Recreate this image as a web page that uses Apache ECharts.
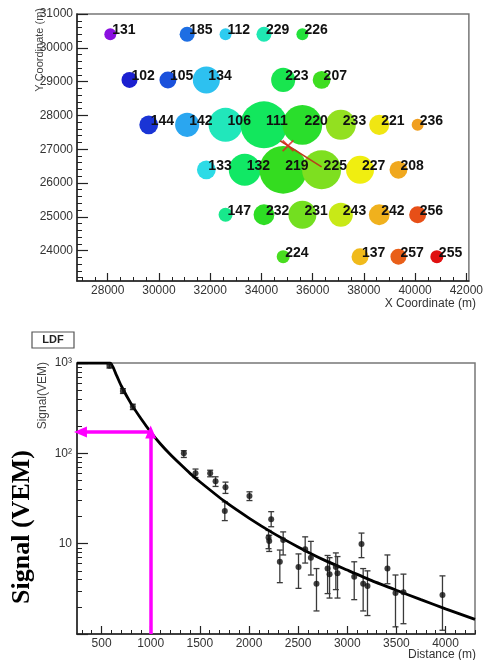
<!DOCTYPE html>
<html>
<head>
<meta charset="utf-8">
<script src="https://cdn.jsdelivr.net/npm/echarts@6/dist/echarts.min.js"></script>
<style>
html, body { margin: 0; padding: 0; background: #fff; }
#main { width: 486px; height: 660px; }
</style>
</head>
<body>
<div id="main"></div>
<script>
// ---- station map (top panel) ----
var stationIds = ['131','185','112','229','226',
  '102','105','134','223','207',
  '144','142','106','111','220','233','221','236',
  '133','132','219','225','227','208',
  '147','232','231','243','242','256',
  '224','137','257','255'];
var stationX = [28100,31100,32600,34100,35600,
  28850,30350,31850,34850,36350,
  29600,31100,32600,34100,35600,37100,38600,40100,
  31850,33350,34850,36350,37850,39350,
  32600,34100,35600,37100,38600,40100,
  34850,37850,39350,40850];
var stationY = [30400,30400,30400,30400,30400,
  29050,29050,29050,29050,29050,
  27720,27720,27720,27720,27720,27720,27720,27720,
  26390,26390,26390,26390,26390,26390,
  25060,25060,25060,25060,25060,25060,
  23820,23820,23820,23820];
// signal in VEM (bubble size)
var stationSignal = [5.6,8.7,5.6,8.7,5.6,
  10,11.5,49,32,13,
  15,32,133,870,300,75,18,5.6,
  15,100,950,275,56,13,
  7.5,20,56,32,20,11.5,
  6.5,11.5,10,6.5];
// relative trigger time, 0 = earliest .. 100 = latest (bubble colour)
var stationTime = [0,20,34,46,60,
  9,16,32,57,65,
  12,27,45,55,62,73,83,91,
  38,54,64,71,82,90,
  50,63,70,78,89,96,
  66,88,95,100];
var timePalette = ['#8a10e0','#1a20d0','#1a60e0','#2aa8f0','#30d8f0','#20e8b8',
  '#10e860','#30dc20','#90e020','#f0f010','#f0a020','#e01010'];
var coreXY = [[35040, 27100]];
var showerAxis = [[34730, 27250], [36350, 26480]];
var mapXTicks = [28000,30000,32000,34000,36000,38000,40000,42000];
var mapYTicks = [24000,25000,26000,27000,28000,29000,30000,31000];

// ---- lateral distribution (bottom panel) ----
var ldfDist   = [580,717,818,1337,1456,1605,1660,1761,1754,2005,2226,2199,2206,2348,2314,2504,2572,2630,2687,2800,2820,2884,2901,3071,3145,3162,3206,3409,3491,3572,3969];
var ldfSignal = [930,490,328,100,60,60,49,42,23,33.6,18.6,11.7,10.7,11.0,6.3,5.5,8.7,7.0,3.6,5.3,4.6,5.5,4.7,4.3,9.9,3.6,3.4,5.3,2.84,2.9,2.7];
var ldfLow    = [880,460,305,90,54,55,43,36,18,30,15.4,8.8,8.2,7.5,3.7,3.2,6.1,4.5,1.8,2.8,2.5,3.1,2.5,2.4,7.0,1.8,1.6,3.6,1.2,1.3,1.1];
var ldfHigh   = [980,520,350,107,67,65,55,48,29,37.5,22.6,14,12.4,13.5,8.5,7.7,11.9,10.6,5.3,7.4,7.0,7.9,7.2,6.3,13.1,5.3,5.0,7.5,4.5,4.6,4.4];
// fitted LDF (clipped at 1000 on the left)
var fitDist   = [250,585,650,700,800,900,1000,1100,1200,1300,1400,1500,1750,2000,2250,2500,2750,3000,3250,3500,3750,4000,4300];
var fitSignal = [1000,1000,740,560,355,243,172,127,97,76,60,48.5,29.5,19.2,13,9.2,6.7,5.1,3.9,3.05,2.4,1.9,1.45];
var s1000 = 172;
var ldfXTicks = [500,1000,1500,2000,2500,3000,3500,4000];

var xMinorMap = [], yMinorMap = [], xMinorLdf = [], yMinorLdfLog = [];
for (var v = 27000; v <= 42000; v += 500) xMinorMap.push(v);
for (var v = 23200; v <= 31000; v += 200) yMinorMap.push(v);
for (var v = 300; v <= 4300; v += 100) xMinorLdf.push(v);
// minor log ticks expressed as decades on a hidden linear helper axis (0..3)
[0, 1, 2].forEach(function (d) { for (var k = 2; k <= 9; k++) yMinorLdfLog.push(d + Math.log10(k)); });

var stationData = stationIds.map(function (id, i) {
  return { name: id, value: [stationX[i], stationY[i], stationSignal[i], stationTime[i]] };
});
var ldfPoints = ldfDist.map(function (d, i) { return [d, ldfSignal[i]]; });
var ldfErrors = ldfDist.map(function (d, i) { return [d, ldfLow[i], ldfHigh[i]]; });
var fitLine = fitDist.map(function (d, i) { return [d, fitSignal[i]]; });

var axisColor = '#222';
var labelFont = { color: '#333', fontSize: 12, fontFamily: 'Liberation Sans, Arial, sans-serif' };
function plain(v) { return String(v); }

function majorX(grid, min, max, ticks) {
  return {
    type: 'value', gridIndex: grid, min: min, max: max, position: 'bottom',
    axisLine: { lineStyle: { color: axisColor, width: 1.5 } },
    axisTick: { inside: true, length: 8, customValues: ticks, lineStyle: { color: axisColor, width: 1.2 } },
    axisLabel: Object.assign({ customValues: ticks, margin: 4, formatter: plain }, labelFont),
    splitLine: { show: false }
  };
}
function minorAxis(type, grid, pos, min, max, ticks) {
  return {
    type: type, gridIndex: grid, min: min, max: max, position: pos, offset: 0,
    axisLine: { show: false },
    axisTick: { inside: true, length: (pos === 'left' ? 5 : 4), customValues: ticks, lineStyle: { color: axisColor, width: 1 } },
    axisLabel: { show: false }, splitLine: { show: false }
  };
}

var myChart = echarts.init(document.getElementById('main'));
var option = {
  animation: false,
  backgroundColor: '#fff',
  grid: [
    { left: 77, right: 11, top: 14, bottom: 379, show: true, borderColor: '#777', borderWidth: 1.5, containLabel: false },
    { left: 77, right: 11, top: 363, bottom: 26, show: true, borderColor: '#777', borderWidth: 1.5, containLabel: false }
  ],
  xAxis: [
    majorX(0, 26800, 42100, mapXTicks),
    minorAxis('value', 0, 'bottom', 26800, 42100, xMinorMap),
    majorX(1, 250, 4300, ldfXTicks),
    minorAxis('value', 1, 'bottom', 250, 4300, xMinorLdf)
  ],
  yAxis: [
    {
      type: 'value', gridIndex: 0, min: 23100, max: 31000, position: 'left',
      axisLine: { lineStyle: { color: axisColor, width: 1.5 } },
      axisTick: { inside: true, length: 11, customValues: mapYTicks, lineStyle: { color: axisColor, width: 1.2 } },
      axisLabel: Object.assign({ customValues: mapYTicks, margin: 4, formatter: plain }, labelFont),
      splitLine: { show: false }
    },
    minorAxis('value', 0, 'left', 23100, 31000, yMinorMap),
    {
      type: 'log', logBase: 10, gridIndex: 1, min: 1, max: 1000, position: 'left',
      axisLine: { lineStyle: { color: axisColor, width: 1.5 } },
      axisTick: { inside: true, length: 11, lineStyle: { color: axisColor, width: 1.2 } },
      axisLabel: Object.assign({
        margin: 5,
        formatter: function (v) {
          if (v >= 999) return '10³';
          if (v >= 99) return '10²';
          if (v >= 9) return '10';
          return '';
        }
      }, labelFont),
      splitLine: { show: false }
    },
    minorAxis('value', 1, 'left', 0, 3, yMinorLdfLog)
  ],
  visualMap: {
    show: false, type: 'continuous', seriesIndex: 0, dimension: 3,
    min: 0, max: 100, inRange: { color: timePalette }
  },
  series: [
    {
      name: 'Stations', type: 'scatter', xAxisIndex: 0, yAxisIndex: 0,
      data: stationData,
      symbolSize: function (val) { return 16 * Math.log10(val[2]); },
      itemStyle: { opacity: 1 },
      label: {
        show: true, position: 'inside', align: 'left', offset: [2, -4],
        formatter: '{b}', color: '#111', fontSize: 14, fontWeight: 'bold',
        fontFamily: 'Liberation Sans, Arial, sans-serif'
      },
      emphasis: { disabled: true }
    },
    {
      name: 'Shower axis', type: 'line', xAxisIndex: 0, yAxisIndex: 0,
      data: showerAxis, symbol: 'none', z: 5,
      lineStyle: { color: '#b8401c', width: 1.5 }
    },
    {
      name: 'Core', type: 'scatter', xAxisIndex: 0, yAxisIndex: 0,
      data: coreXY, z: 6,
      symbol: 'path://M0,1L1,0L5,4L9,0L10,1L6,5L10,9L9,10L5,6L1,10L0,9L4,5Z',
      symbolSize: 12, itemStyle: { color: '#e02020' }
    },
    {
      name: 'LDF fit', type: 'line', xAxisIndex: 2, yAxisIndex: 2,
      data: fitLine, symbol: 'none', smooth: 0.2,
      lineStyle: { color: '#000', width: 2.8 }, z: 4,
      markLine: {
        silent: true, symbol: ['none', 'triangle'], symbolSize: [11, 13],
        label: { show: false },
        lineStyle: { color: '#ff00ff', width: 3.5, type: 'solid' },
        data: [
          [{ coord: [1000, 1] }, { coord: [1000, s1000] }],
          [{ coord: [1000, s1000] }, { coord: [285, s1000] }]
        ]
      }
    },
    {
      name: 'Errors', type: 'custom', xAxisIndex: 2, yAxisIndex: 2,
      data: ldfErrors, encode: { x: 0, y: [1, 2] }, z: 3,
      renderItem: function (params, api) {
        var top = api.coord([api.value(0), api.value(2)]);
        var bot = api.coord([api.value(0), api.value(1)]);
        var st = { stroke: '#3a3a3a', lineWidth: 1.3 };
        return {
          type: 'group',
          children: [
            { type: 'line', shape: { x1: top[0], y1: top[1], x2: bot[0], y2: bot[1] }, style: st },
            { type: 'line', shape: { x1: top[0] - 3, y1: top[1], x2: top[0] + 3, y2: top[1] }, style: st },
            { type: 'line', shape: { x1: bot[0] - 3, y1: bot[1], x2: bot[0] + 3, y2: bot[1] }, style: st }
          ]
        };
      }
    },
    {
      name: 'Signals', type: 'scatter', xAxisIndex: 2, yAxisIndex: 2,
      data: ldfPoints, symbolSize: 6, z: 5,
      itemStyle: { color: '#111' }
    }
  ],
  graphic: [
    { type: 'text', x: 40, y: 8, rotation: Math.PI / 2,
      style: { text: 'Y Coordinate (m)', align: 'right', verticalAlign: 'middle', fontSize: 11, fontFamily: 'Liberation Sans, Arial', fill: '#444' } },
    { type: 'text', x: 476, y: 304,
      style: { text: 'X Coordinate (m)', align: 'right', verticalAlign: 'middle', fontSize: 12, fontFamily: 'Liberation Sans, Arial', fill: '#333' } },
    { type: 'rect', shape: { x: 32, y: 332, width: 42, height: 16 },
      style: { fill: '#fff', stroke: '#555', lineWidth: 1.2 } },
    { type: 'text', x: 53, y: 340,
      style: { text: 'LDF', align: 'center', verticalAlign: 'middle', fontSize: 11, fontWeight: 'bold', fontFamily: 'Liberation Sans, Arial', fill: '#222' } },
    { type: 'text', x: 43, y: 362, rotation: Math.PI / 2,
      style: { text: 'Signal(VEM)', align: 'right', verticalAlign: 'middle', fontSize: 12, fontFamily: 'Liberation Sans, Arial', fill: '#444' } },
    { type: 'text', x: 476, y: 655,
      style: { text: 'Distance (m)', align: 'right', verticalAlign: 'middle', fontSize: 12, fontFamily: 'Liberation Sans, Arial', fill: '#333' } },
    { type: 'text', x: 22, y: 527, rotation: Math.PI / 2,
      style: { text: 'Signal (VEM)', align: 'center', verticalAlign: 'middle', fontSize: 26, fontWeight: 'bold', fontFamily: 'Liberation Serif, Times New Roman, serif', fill: '#000' } }
  ]
};
myChart.setOption(option);
</script>
</body>
</html>
